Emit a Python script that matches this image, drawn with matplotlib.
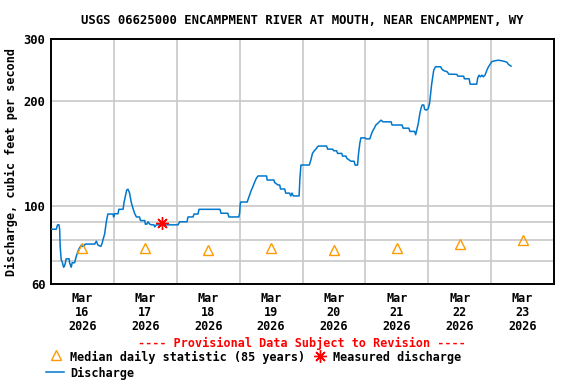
import numpy as np
import matplotlib
matplotlib.use("Agg")
import matplotlib.pyplot as plt
from matplotlib.lines import Line2D

# discharge, hours after 2026-03-16 00:00 and cubic feet per second
hours = [0.1, 2.0, 2.5, 3.05, 3.3, 3.5, 3.9, 4.3, 4.8, 5.15, 5.5, 5.8, 6.9, 7.1, 7.7, 8.1,
         9.0, 9.5, 10.0, 10.7, 11.6, 11.9, 12.6, 13.1, 16.7, 17.3, 17.9, 19.0, 19.5, 19.8,
         20.5, 21.1, 21.7, 23.7, 23.9, 24.3, 25.6, 25.9, 27.5, 27.9, 28.4, 28.9, 29.4, 30.0,
         30.6, 31.3, 31.9, 32.6, 33.8, 34.2, 35.8, 36.0, 36.6, 37.0, 37.7, 38.3, 39.3, 39.6,
         40.2, 48.5, 49.1, 51.9, 52.3, 54.2, 54.6, 56.1, 56.5, 64.5, 64.9, 67.5, 67.9, 71.7,
         72.0, 72.2, 72.4, 74.9, 75.2, 75.8, 76.4, 77.1, 77.7, 78.3, 79.0, 82.3, 82.5, 85.1,
         85.3, 86.6, 87.3, 87.6, 89.2, 89.6, 91.1, 91.5, 92.0, 92.5, 94.7, 95.0, 95.4, 98.6,
         99.2, 99.8, 100.5, 101.1, 101.8, 102.1, 105.2, 105.6, 107.5, 107.9, 109.0, 109.4,
         111.0, 111.3, 112.6, 112.9, 113.8, 114.5, 115.7, 116.1, 117.0, 117.4, 117.9, 118.3,
         119.9, 120.2, 121.7, 122.1, 122.7, 123.4, 124.0, 124.7, 125.3, 126.0, 126.7, 127.1,
         129.8, 130.2, 134.0, 134.4, 136.6, 137.0, 138.8, 139.2, 139.5, 140.2, 140.8, 141.3,
         141.7, 142.3, 142.6, 143.3, 144.0, 144.5, 144.9, 145.3, 145.8, 146.1, 146.8, 148.7,
         149.3, 150.0, 151.2, 151.9, 153.8, 154.9, 155.3, 157.5, 157.8, 159.6, 160.0, 162.5,
         162.9, 163.4, 163.9, 164.5, 165.0, 165.7, 166.4, 167.0, 167.6, 168.3, 169.5, 170.8,
         172.1, 173.3, 174.0, 174.6, 175.6]
flow = [86, 86, 88.5, 88.5, 86, 76.8, 70.3, 69.3, 67.0, 67.5, 69, 70.8, 70.8, 69, 67, 69,
        69, 71.3, 73.3, 75.7, 77.5, 76.8, 77, 78, 78, 79.5, 77.5, 76.8, 78.3, 80,
        83.5, 90.2, 95, 95, 93.2, 95.2, 95.2, 98, 98, 102.8, 106.9, 111.3, 111.8, 109,
        102.8, 98.6, 95.5, 93.2, 93.2, 91, 91, 88.9, 88.9, 90.3, 88.9, 88.5, 88.5, 87.3,
        88.5, 88.5, 90.3, 90.3, 93.2, 93.2, 95, 95, 98, 98, 95.5, 95.5, 93.2, 93.2,
        95.5, 100.8, 102.8, 102.8, 104.5, 107.7, 110.8, 113.9, 117, 119.8, 122, 122, 118.8, 118.8,
        117, 115, 115, 112, 112, 109, 109, 107, 109, 107, 107, 119.8, 131.1, 131.1,
        135.5, 141.5, 144, 145.5, 148, 148.5, 148.5, 145.5, 145.5, 144, 144, 141.5,
        141.5, 139, 139, 137, 135.5, 134.4, 134.4, 131, 131, 141.5, 151.6, 156.7,
        156.7, 155.7, 155.7, 159, 163.5, 167, 170.5, 172.3, 174.1, 176, 174.1, 174.1,
        174.1, 170.5, 170.5, 167, 167, 163.5, 163.5, 160, 163.5, 172.3, 184, 191,
        194.5, 194.5, 189, 188, 190, 196.5, 210, 223, 236.8, 244.7, 250, 250,
        245.7, 243.5, 242, 238, 238, 237.8, 235, 235, 231, 231, 223, 223,
        232.5, 236.5, 234, 236.5, 234, 237, 244.7, 250, 254, 258.7, 260, 261,
        260, 258.7, 257.5, 254, 251]

median_days = ["2026-03-16", "2026-03-17", "2026-03-18", "2026-03-19",
               "2026-03-20", "2026-03-21", "2026-03-22", "2026-03-23"]
median_flow = [76, 76, 75, 76, 75, 76, 78, 80]

measured_time = ["2026-03-17T18:20"]
measured_flow = [89.5]

start = np.datetime64("2026-03-16T00:00")
t = start + (np.array(hours) * 60).astype("timedelta64[m]")
t_med = np.array(median_days, dtype="datetime64[m]") + np.timedelta64(12 * 60, "m")
t_meas = np.array(measured_time, dtype="datetime64[m]")

font = {"family": "DejaVu Sans Mono", "weight": "bold"}
plt.rcParams["font.family"] = "DejaVu Sans Mono"
plt.rcParams["font.weight"] = "bold"

fig = plt.figure(figsize=(5.76, 3.84), dpi=100)
ax = fig.add_axes([51 / 576, 1 - 284 / 384, 503 / 576, 245 / 384])

ax.plot(t, flow, color="#0077cc", lw=1.1, zorder=3)
ax.plot(t_med, median_flow, ls="none", marker="^", ms=7, mfc="none",
        mec="#ff9900", mew=1.0, zorder=4)
ax.plot(t_meas, measured_flow, ls="none", marker=(8, 2, 0), ms=9,
        color="#ff0000", mew=1.0, zorder=5)

ax.set_yscale("log")
ax.set_ylim(60, 300)
ax.set_yticks([60, 100, 200, 300])
ax.set_yticklabels(["60", "100", "200", "300"], fontsize=8.7, fontweight="bold")
ax.set_yticks([70, 80, 90], minor=True)
ax.yaxis.set_minor_formatter(plt.NullFormatter())
ax.set_xlim(start, start + np.timedelta64(8, "D"))

days = np.arange(start, start + np.timedelta64(8, "D"), np.timedelta64(1, "D"))
ax.set_xticks(days + np.timedelta64(12, "h"))
ax.set_xticklabels(["Mar\n%d\n2026" % d for d in range(16, 24)],
                   fontsize=8.5, fontweight="bold", linespacing=1.1)
ax.set_xticks(days[1:], minor=True)

ax.grid(True, which="both", color="#c8c8c8", lw=1.2)
ax.grid(False, which="major", axis="x")
ax.tick_params(which="both", length=0)
ax.tick_params(axis="x", pad=6)
ax.tick_params(axis="y", pad=4)
for s in ax.spines.values():
    s.set_linewidth(1.4)
ax.set_axisbelow(True)

ax.set_ylabel("Discharge, cubic feet per second", fontsize=8.5, fontweight="bold", labelpad=4)

fig.text(302 / 576, 1 - 20 / 384, "USGS 06625000 ENCAMPMENT RIVER AT MOUTH, NEAR ENCAMPMENT, WY",
         ha="center", va="center", fontsize=8.8, **font)
fig.text(302 / 576, 1 - 343 / 384, "---- Provisional Data Subject to Revision ----",
         ha="center", va="center", fontsize=8.5, color="#ff0000", **font)

# legend
fig.add_artist(Line2D([56 / 576], [1 - 355 / 384], transform=fig.transFigure, ls="none",
                      marker="^", ms=7, mfc="none", mec="#ff9900", mew=1.0))
fig.text(70 / 576, 1 - 357 / 384, "Median daily statistic (85 years)",
         ha="left", va="center", fontsize=8.5, **font)
fig.add_artist(Line2D([320 / 576], [1 - 356 / 384], transform=fig.transFigure, ls="none",
                      marker=(8, 2, 0), ms=9, color="#ff0000", mew=1.0))
fig.text(333 / 576, 1 - 357 / 384, "Measured discharge",
         ha="left", va="center", fontsize=8.5, **font)
fig.add_artist(Line2D([46 / 576, 64 / 576], [1 - 372 / 384, 1 - 372 / 384],
                      transform=fig.transFigure, color="#0077cc", lw=1.1))
fig.text(70 / 576, 1 - 373 / 384, "Discharge",
         ha="left", va="center", fontsize=8.5, **font)

fig.savefig("out.png", dpi=100)
